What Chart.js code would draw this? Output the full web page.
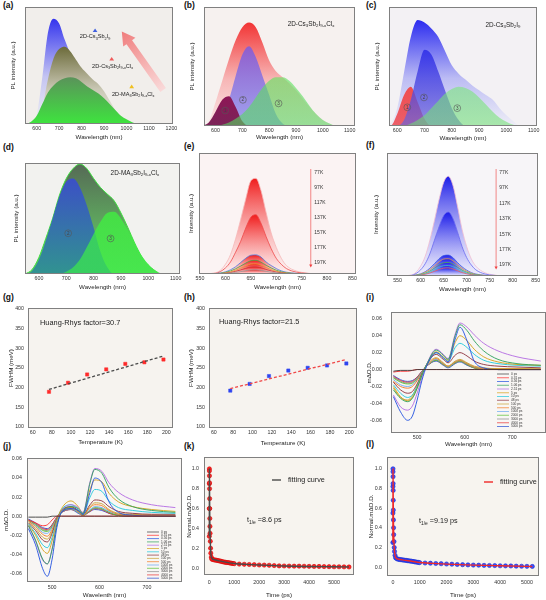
<!DOCTYPE html>
<html>
<head>
<meta charset="utf-8">
<script src="https://cdn.jsdelivr.net/npm/chart.js@4.4.1/dist/chart.umd.min.js"></script>
<style>
  body { margin: 0; background: #fff; }
  #fig { position: relative; width: 546px; height: 600px; overflow: hidden; }
  #fig canvas { position: absolute; }
  .tag { position: absolute; font: bold 8.5px 'Liberation Sans', Arial, sans-serif; line-height: 1; color: #111; }
</style>
</head>
<body>
<div id="fig">
  <div class="tag" style="left:3px;top:1px">(a)</div>
  <div class="tag" style="left:184px;top:1px">(b)</div>
  <div class="tag" style="left:366px;top:1px">(c)</div>
  <div class="tag" style="left:3px;top:143px">(d)</div>
  <div class="tag" style="left:184px;top:142px">(e)</div>
  <div class="tag" style="left:366px;top:141px">(f)</div>
  <div class="tag" style="left:3px;top:293px">(g)</div>
  <div class="tag" style="left:184px;top:293px">(h)</div>
  <div class="tag" style="left:366px;top:293px">(i)</div>
  <div class="tag" style="left:3px;top:442px">(j)</div>
  <div class="tag" style="left:184px;top:442px">(k)</div>
  <div class="tag" style="left:366px;top:440px">(l)</div>
</div>
<script>
// ---- data ----
// (a)-(d) PL spectra, normalised to plot height
const plWave = [550, 575, 600, 625, 650, 675, 700, 725, 750, 775, 800, 825, 850, 875, 900, 925, 950, 975, 1000, 1025, 1050, 1075, 1100]
const aCsI   = [0, 0, 0.08, 0.4, 0.78, 0.9, 0.86, 0.72, 0.6, 0.5, 0.42, 0.35, 0.28, 0.21, 0.15, 0.1, 0.06, 0.03, 0.01, 0, 0, 0, 0]
const aCsCl  = [0, 0, 0.02, 0.14, 0.38, 0.56, 0.64, 0.66, 0.62, 0.55, 0.48, 0.43, 0.38, 0.34, 0.28, 0.2, 0.12, 0.06, 0.02, 0.005, 0, 0, 0]
const aMACl  = [0, 0.02, 0.07, 0.17, 0.27, 0.33, 0.37, 0.39, 0.4, 0.39, 0.36, 0.32, 0.29, 0.26, 0.22, 0.17, 0.12, 0.07, 0.04, 0.015, 0, 0, 0]

const bTotal = [0, 0.04, 0.2, 0.38, 0.56, 0.72, 0.83, 0.87, 0.83, 0.7, 0.55, 0.46, 0.41, 0.36, 0.3, 0.23, 0.16, 0.1, 0.05, 0.02, 0, 0, 0]
const bPeak1 = [0, 0.03, 0.12, 0.22, 0.25, 0.16, 0.04, 0, 0, 0, 0, 0, 0, 0, 0, 0, 0, 0, 0, 0, 0, 0, 0]
const bPeak2 = [0, 0, 0.02, 0.08, 0.22, 0.42, 0.6, 0.67, 0.58, 0.42, 0.26, 0.1, 0.02, 0, 0, 0, 0, 0, 0, 0, 0, 0, 0]
const bPeak3 = [0, 0, 0, 0.01, 0.03, 0.06, 0.1, 0.16, 0.24, 0.32, 0.38, 0.41, 0.41, 0.38, 0.32, 0.25, 0.17, 0.1, 0.05, 0.02, 0, 0, 0]

const cTotal = [0, 0.02, 0.15, 0.45, 0.75, 0.89, 0.87, 0.82, 0.75, 0.63, 0.51, 0.44, 0.39, 0.34, 0.3, 0.26, 0.22, 0.15, 0.09, 0.04, 0, 0, 0]
const cPeak1 = [0, 0, 0.1, 0.26, 0.33, 0.2, 0.06, 0, 0, 0, 0, 0, 0, 0, 0, 0, 0, 0, 0, 0, 0, 0, 0]
const cPeak2 = [0, 0, 0, 0.05, 0.22, 0.46, 0.64, 0.6, 0.46, 0.3, 0.15, 0.05, 0, 0, 0, 0, 0, 0, 0, 0, 0, 0, 0]
const cPeak3 = [0, 0, 0, 0, 0.02, 0.05, 0.09, 0.15, 0.21, 0.27, 0.31, 0.33, 0.32, 0.29, 0.24, 0.18, 0.12, 0.07, 0.035, 0.01, 0, 0, 0]

const dTotal = [0, 0.04, 0.15, 0.32, 0.5, 0.71, 0.86, 0.95, 0.99, 0.95, 0.86, 0.78, 0.72, 0.66, 0.55, 0.42, 0.28, 0.16, 0.08, 0.03, 0, 0, 0]
const dPeak2 = [0, 0.03, 0.13, 0.3, 0.5, 0.7, 0.83, 0.86, 0.78, 0.62, 0.42, 0.2, 0.06, 0, 0, 0, 0, 0, 0, 0, 0, 0, 0]
const dPeak3 = [0, 0, 0, 0, 0, 0, 0.02, 0.06, 0.13, 0.24, 0.36, 0.47, 0.55, 0.56, 0.5, 0.4, 0.28, 0.17, 0.09, 0.03, 0, 0, 0]

// (e),(f) temperature dependent PL
const tWave = [550, 580, 590, 600, 610, 620, 630, 640, 650, 660, 670, 680, 690, 700, 710, 720, 740, 760, 780, 850]
const tempLabels = ['77K', '97K', '117K', '137K', '157K', '177K', '197K']
const e77  = [0, 0.01, 0.03, 0.08, 0.16, 0.29, 0.45, 0.62, 0.77, 0.79, 0.69, 0.51, 0.34, 0.22, 0.13, 0.07, 0.024, 0.008, 0, 0]
const e97  = [0, 0.005, 0.02, 0.05, 0.1, 0.18, 0.27, 0.38, 0.47, 0.49, 0.42, 0.31, 0.21, 0.13, 0.08, 0.045, 0.015, 0.005, 0, 0]
const e117 = [0, 0.003, 0.008, 0.018, 0.035, 0.06, 0.095, 0.13, 0.155, 0.158, 0.14, 0.1, 0.07, 0.045, 0.026, 0.015, 0.005, 0.002, 0, 0]
const e137 = [0, 0.002, 0.006, 0.013, 0.025, 0.043, 0.066, 0.09, 0.11, 0.113, 0.098, 0.073, 0.05, 0.031, 0.018, 0.01, 0.003, 0.001, 0, 0]
const e157 = [0, 0.001, 0.004, 0.009, 0.018, 0.031, 0.048, 0.066, 0.082, 0.084, 0.073, 0.054, 0.036, 0.023, 0.013, 0.008, 0.003, 0.001, 0, 0]
const e177 = [0, 0.001, 0.003, 0.006, 0.012, 0.022, 0.034, 0.047, 0.058, 0.059, 0.052, 0.038, 0.026, 0.016, 0.01, 0.005, 0.002, 0, 0, 0]
const e197 = [0, 0, 0.002, 0.004, 0.007, 0.013, 0.02, 0.027, 0.034, 0.035, 0.03, 0.022, 0.015, 0.01, 0.006, 0.003, 0.001, 0, 0, 0]
const f77  = [0, 0.008, 0.03, 0.08, 0.16, 0.29, 0.45, 0.62, 0.76, 0.81, 0.74, 0.57, 0.38, 0.24, 0.14, 0.08, 0.026, 0.008, 0, 0]
const f97  = [0, 0.005, 0.02, 0.05, 0.1, 0.18, 0.29, 0.4, 0.49, 0.52, 0.47, 0.36, 0.24, 0.15, 0.09, 0.05, 0.016, 0.005, 0, 0]
const f117 = [0, 0.003, 0.008, 0.018, 0.035, 0.063, 0.1, 0.14, 0.166, 0.17, 0.15, 0.11, 0.075, 0.048, 0.028, 0.016, 0.005, 0.002, 0, 0]
const f137 = [0, 0.002, 0.007, 0.015, 0.03, 0.052, 0.082, 0.114, 0.137, 0.14, 0.124, 0.092, 0.062, 0.04, 0.023, 0.013, 0.004, 0.001, 0, 0]
const f157 = [0, 0.002, 0.005, 0.012, 0.023, 0.04, 0.064, 0.09, 0.107, 0.11, 0.097, 0.072, 0.048, 0.031, 0.018, 0.01, 0.003, 0.001, 0, 0]
const f177 = [0, 0.001, 0.004, 0.009, 0.018, 0.031, 0.05, 0.069, 0.083, 0.085, 0.075, 0.056, 0.037, 0.024, 0.014, 0.008, 0.003, 0.001, 0, 0]
const f197 = [0, 0.001, 0.003, 0.007, 0.014, 0.024, 0.038, 0.053, 0.063, 0.065, 0.057, 0.043, 0.028, 0.018, 0.011, 0.006, 0.002, 0, 0, 0]

// (g),(h) FWHM vs temperature
const temps  = [77, 97, 117, 137, 157, 177, 197]
const gFwhm  = [189, 212, 233, 246, 260, 264, 271]
const hFwhm  = [192, 209, 229, 243, 250, 256, 261]
const fitT   = [77, 197]
const gFit   = [195, 280]
const hFit   = [197, 271]

// (i),(j) transient absorption spectra
const taWave   = [450, 465, 480, 490, 500, 510, 520, 540, 555, 565, 580, 590, 605, 620, 640, 670, 710, 760]
const taDelays = ['0 ps', '0.31 ps', '0.56 ps', '1.06 ps', '2.51 ps', '5 ps', '10 ps', '48 ps', '100 ps', '500 ps', '1000 ps', '2000 ps', '3000 ps', '4000 ps', '5000 ps']
const i0  = [-0.002, -0.001, -0.001, -0.001, 0, 0, 0, 0, 0, 0, 0, 0, 0, 0, 0, 0, 0, 0]
const i1  = [-0.003, -0.002, -0.002, -0.001, 0, 0, 0, 0, 0, 0, 0, 0, 0, 0, 0, 0, 0, 0]
const i2  = [-0.032, -0.05, -0.06, -0.055, -0.036, -0.013, 0.004, 0.02, 0.014, 0.009, 0.036, 0.05, 0.034, 0.01, 0.002, 0, 0, 0]
const i3  = [-0.024, -0.034, -0.038, -0.034, -0.022, -0.007, 0.006, 0.023, 0.017, 0.012, 0.04, 0.053, 0.046, 0.034, 0.022, 0.012, 0.007, 0.005]
const i4  = [-0.03, -0.044, -0.048, -0.043, -0.028, -0.01, 0.006, 0.024, 0.018, 0.013, 0.042, 0.055, 0.05, 0.041, 0.031, 0.022, 0.015, 0.01]
const i5  = [-0.02, -0.032, -0.037, -0.033, -0.022, -0.007, 0.006, 0.021, 0.015, 0.011, 0.032, 0.04, 0.034, 0.024, 0.015, 0.009, 0.006, 0.005]
const i6  = [-0.018, -0.028, -0.033, -0.03, -0.02, -0.006, 0.006, 0.02, 0.014, 0.01, 0.026, 0.031, 0.026, 0.018, 0.011, 0.007, 0.005, 0.004]
const i7  = [-0.015, -0.024, -0.028, -0.026, -0.017, -0.005, 0.006, 0.018, 0.012, 0.008, 0.017, 0.02, 0.016, 0.01, 0.006, 0.004, 0.003, 0.002]
const i8  = [-0.022, -0.033, -0.036, -0.031, -0.019, -0.005, 0.005, 0.014, 0.008, 0.004, 0.01, 0.012, 0.008, 0.004, 0.002, 0.001, 0.001, 0.001]
const i9  = [-0.014, -0.02, -0.022, -0.02, -0.013, -0.004, 0.004, 0.013, 0.007, 0.004, 0.009, 0.011, 0.007, 0.003, 0.001, 0.001, 0.001, 0]
const i10 = [-0.012, -0.018, -0.02, -0.018, -0.012, -0.003, 0.004, 0.012, 0.007, 0.003, 0.009, 0.011, 0.007, 0.003, 0.001, 0, 0, 0]
const i11 = [-0.01, -0.015, -0.017, -0.016, -0.011, -0.003, 0.004, 0.011, 0.006, 0.003, 0.008, 0.01, 0.006, 0.002, 0.001, 0, 0, 0]
const i12 = [-0.009, -0.014, -0.016, -0.015, -0.01, -0.003, 0.004, 0.011, 0.006, 0.003, 0.008, 0.01, 0.006, 0.002, 0.001, 0, 0, 0]
const i13 = [-0.008, -0.013, -0.015, -0.014, -0.009, -0.002, 0.004, 0.011, 0.006, 0.003, 0.008, 0.01, 0.006, 0.002, 0.001, 0, 0, 0]
const i14 = [-0.007, -0.012, -0.014, -0.013, -0.009, -0.002, 0.004, 0.01, 0.005, 0.002, 0.007, 0.009, 0.005, 0.002, 0.001, 0, 0, 0]
const j0  = [-0.001, -0.001, -0.001, -0.001, 0, 0, 0, 0, 0, 0, 0, 0, 0, 0, 0, 0, 0, 0]
const j1  = [-0.004, -0.007, -0.01, -0.009, -0.004, 0, 0, 0, 0, 0, 0, 0, 0, 0, 0, 0, 0, 0]
const j2  = [-0.013, -0.03, -0.055, -0.063, -0.045, -0.012, 0.004, 0.008, 0.006, 0.002, 0.025, 0.04, 0.035, 0.015, 0.004, 0.001, 0, 0]
const j3  = [-0.01, -0.025, -0.045, -0.05, -0.035, -0.009, 0.004, 0.01, 0.008, 0.003, 0.035, 0.049, 0.045, 0.03, 0.018, 0.01, 0.006, 0.004]
const j4  = [-0.01, -0.026, -0.046, -0.05, -0.034, -0.008, 0.005, 0.012, 0.009, 0.004, 0.036, 0.05, 0.047, 0.035, 0.025, 0.017, 0.012, 0.009]
const j5  = [-0.009, -0.02, -0.035, -0.039, -0.026, -0.005, 0.008, 0.016, 0.01, 0.003, 0.028, 0.038, 0.036, 0.024, 0.015, 0.01, 0.007, 0.005]
const j6  = [-0.008, -0.018, -0.03, -0.033, -0.022, -0.004, 0.007, 0.012, 0.007, 0.002, 0.02, 0.028, 0.026, 0.016, 0.009, 0.006, 0.004, 0.003]
const j7  = [-0.007, -0.015, -0.025, -0.027, -0.018, -0.003, 0.006, 0.01, 0.006, 0.002, 0.012, 0.017, 0.016, 0.01, 0.005, 0.003, 0.002, 0.002]
const j8  = [-0.006, -0.013, -0.022, -0.024, -0.016, -0.003, 0.006, 0.009, 0.005, 0.001, 0.01, 0.014, 0.013, 0.007, 0.003, 0.002, 0.001, 0.001]
const j9  = [-0.005, -0.011, -0.019, -0.021, -0.014, -0.002, 0.005, 0.009, 0.005, 0.001, 0.009, 0.012, 0.011, 0.006, 0.002, 0.001, 0.001, 0]
const j10 = [-0.005, -0.01, -0.017, -0.018, -0.012, -0.002, 0.005, 0.008, 0.004, 0.001, 0.007, 0.01, 0.009, 0.005, 0.002, 0.001, 0, 0]
const j11 = [-0.004, -0.009, -0.015, -0.016, -0.011, -0.002, 0.005, 0.008, 0.004, 0.001, 0.006, 0.009, 0.008, 0.004, 0.001, 0.001, 0, 0]
const j12 = [-0.004, -0.008, -0.014, -0.015, -0.01, -0.002, 0.004, 0.007, 0.004, 0.001, 0.006, 0.008, 0.007, 0.004, 0.001, 0, 0, 0]
const j13 = [-0.004, -0.008, -0.013, -0.014, -0.009, -0.001, 0.004, 0.007, 0.004, 0.001, 0.005, 0.008, 0.007, 0.003, 0.001, 0, 0, 0]
const j14 = [-0.003, -0.007, -0.012, -0.013, -0.009, -0.001, 0.004, 0.007, 0.003, 0.001, 0.005, 0.007, 0.006, 0.003, 0.001, 0, 0, 0]

// (k),(l) kinetics
const kTime = [0, 1, 2, 3, 4, 6, 8, 10, 13, 16, 20, 25, 30, 40, 50, 60, 80, 100, 150, 200, 250, 300, 350, 400, 450, 500, 550, 600, 650, 700, 750, 800, 850, 900, 950, 1000, 1200, 1400, 1600, 1800, 2000, 2200, 2400, 2600, 2800, 3000, 3200, 3400, 3600, 3800, 4000, 4200, 4400, 4600, 4800, 5000, 5200, 5400, 5600]
const kSig  = [0.32, 0.6, 0.85, 1.0, 0.98, 0.93, 0.86, 0.8, 0.7, 0.6, 0.5, 0.42, 0.35, 0.27, 0.2, 0.15, 0.11, 0.09, 0.085, 0.082, 0.08, 0.078, 0.075, 0.072, 0.07, 0.066, 0.063, 0.06, 0.058, 0.056, 0.055, 0.053, 0.05, 0.048, 0.046, 0.044, 0.04, 0.038, 0.036, 0.034, 0.031, 0.03, 0.028, 0.025, 0.022, 0.021, 0.02, 0.019, 0.019, 0.018, 0.017, 0.016, 0.016, 0.015, 0.014, 0.013, 0.013, 0.012, 0.011]
const kFitT = [0, 3, 10, 20, 40, 60, 100, 200, 400, 700, 1000, 1500, 2000, 3000, 4000, 5000, 5600]
const kFit  = [0.32, 1.0, 0.8, 0.5, 0.27, 0.15, 0.1, 0.085, 0.072, 0.057, 0.046, 0.037, 0.031, 0.021, 0.016, 0.013, 0.011]
const lTime = [0, 1, 2, 3, 4, 6, 8, 10, 13, 16, 20, 25, 30, 40, 50, 60, 80, 100, 150, 200, 250, 300, 350, 400, 450, 500, 550, 600, 650, 700, 750, 800, 850, 900, 950, 1000, 1200, 1400, 1600, 1800, 2000, 2200, 2400, 2600, 2800, 3000, 3200, 3400, 3600, 3800, 4000, 4200, 4400, 4600, 4800, 5000, 5200]
const lSig  = [0.25, 0.55, 0.82, 1.0, 0.97, 0.92, 0.85, 0.78, 0.68, 0.58, 0.48, 0.4, 0.33, 0.26, 0.2, 0.16, 0.12, 0.095, 0.085, 0.08, 0.078, 0.076, 0.074, 0.072, 0.07, 0.068, 0.066, 0.064, 0.062, 0.06, 0.058, 0.055, 0.053, 0.05, 0.048, 0.046, 0.042, 0.04, 0.037, 0.035, 0.032, 0.03, 0.027, 0.025, 0.023, 0.021, 0.02, 0.018, 0.017, 0.016, 0.014, 0.013, 0.012, 0.01, 0.009, 0.008, 0.007]
const lFitT = [0, 3, 10, 20, 40, 60, 100, 200, 400, 700, 1000, 1500, 2000, 3000, 4000, 5000, 5200]
const lFit  = [0.25, 1.0, 0.78, 0.48, 0.26, 0.16, 0.1, 0.082, 0.072, 0.06, 0.047, 0.038, 0.031, 0.021, 0.014, 0.008, 0.007]

// tick values
const plTicks    = [600, 700, 800, 900, 1000, 1100]
const aTicks     = [600, 700, 800, 900, 1000, 1100, 1200]
const tempTicks  = [550, 600, 650, 700, 750, 800, 850]
const tTicks     = [60, 80, 100, 120, 140, 160, 180, 200]
const fwhmTicks  = [100, 150, 200, 250, 300, 350, 400]
const taTicks    = [500, 600, 700]
const odTicks    = [-0.06, -0.04, -0.02, 0, 0.02, 0.04, 0.06]
const timeTicks  = [0, 1000, 2000, 3000, 4000, 5000]
const normTicks  = [0, 0.2, 0.4, 0.6, 0.8, 1.0]

// ---- drawing ----
const FONT = "'Liberation Sans', Arial, sans-serif"
const TICK = 5.3
const TITLE = 6.2
const fig = document.getElementById('fig')
const taColors = ['#3a3a3a', '#ff2a2a', '#2050e0', '#2ca05a', '#b36ae2', '#d4a017', '#1ec8dc', '#8b2f3a', '#c8a030', '#f07820', '#6aa8f0', '#58c030', '#8a8a8a', '#e83030', '#2a4fd0']

const pts = (xs, ys) => xs.map((x, i) => ({ x, y: ys[i] }))

// vertical gradient from the curve's peak down to the baseline
function fade(stops) {
    return c => {
        const chart = c.chart
        const area = chart.chartArea
        if (!area) return stops[0][1]
        const peak = Math.max(...c.dataset.data.map(p => p.y))
        const g = chart.ctx.createLinearGradient(0, chart.scales.y.getPixelForValue(peak), 0, area.bottom)
        stops.forEach(([o, col]) => g.addColorStop(o, col))
        return g
    }
}

function area(xs, ys, stops, border, bw) {
    return {
        data: pts(xs, ys), fill: 'origin', backgroundColor: fade(stops),
        borderColor: border || 'rgba(0,0,0,0)', borderWidth: bw || 0,
        pointRadius: 0, cubicInterpolationMode: 'monotone'
    }
}

function splitSub(s) {
    const out = []
    const re = /_\{([^}]*)\}/g
    let last = 0, m
    while ((m = re.exec(s))) {
        if (m.index > last) out.push([s.slice(last, m.index), false])
        out.push([m[1], true])
        last = re.lastIndex
    }
    if (last < s.length) out.push([s.slice(last), false])
    return out
}

function rich(ctx, s, x, y, size, align, color) {
    const parts = splitSub(s)
    let w = 0
    parts.forEach(([t, sub]) => { ctx.font = (sub ? size * 0.68 : size) + 'px ' + FONT; w += ctx.measureText(t).width })
    let cx = align === 'left' ? x : x - w / 2
    ctx.fillStyle = color || '#222'
    ctx.textAlign = 'left'
    ctx.textBaseline = 'middle'
    parts.forEach(([t, sub]) => {
        ctx.font = (sub ? size * 0.68 : size) + 'px ' + FONT
        ctx.fillText(t, cx, sub ? y + size * 0.3 : y)
        cx += ctx.measureText(t).width
    })
}

function circled(ctx, n, x, y) {
    ctx.strokeStyle = '#555'
    ctx.lineWidth = 0.6
    ctx.beginPath()
    ctx.arc(x, y, 3.4, 0, Math.PI * 2)
    ctx.stroke()
    ctx.fillStyle = '#444'
    ctx.font = '4.6px ' + FONT
    ctx.textAlign = 'center'
    ctx.textBaseline = 'middle'
    ctx.fillText(n, x, y + 0.2)
}

function frame(bg, extra) {
    return {
        id: 'frame',
        beforeDraw(chart) {
            const { ctx, chartArea: a } = chart
            ctx.save()
            ctx.fillStyle = bg
            ctx.fillRect(a.left, a.top, a.width, a.height)
            ctx.restore()
        },
        afterDraw(chart) {
            const { ctx, chartArea: a } = chart
            const X = v => chart.scales.x.getPixelForValue(v)
            const Y = v => chart.scales.y.getPixelForValue(v)
            if (extra) {
                ctx.save()
                extra(ctx, a, X, Y, chart)
                ctx.restore()
            }
            ctx.save()
            ctx.strokeStyle = '#808080'
            ctx.lineWidth = 1
            ctx.strokeRect(a.left + 0.5, a.top + 0.5, a.width - 1, a.height - 1)
            ctx.restore()
        }
    }
}

// g: canvas box + wanted plot box + title centres, all in page pixels
function panel(g, type, datasets, o, extra) {
    const cv = document.createElement('canvas')
    cv.width = g.cw
    cv.height = g.ch
    cv.style.left = g.cx + 'px'
    cv.style.top = g.cy + 'px'
    fig.appendChild(cv)
    const L = TITLE * 1.2
    const bottomEdge = g.xt + L / 2
    const leftEdge = g.yt - L / 2
    const tickFont = { family: FONT, size: TICK }
    const titleFont = { family: FONT, size: TITLE }
    const y = {
        type: 'linear', min: o.yr[0], max: o.yr[1],
        grid: { display: false, drawTicks: false }, border: { display: false },
        afterFit: s => { s.width = g.l - leftEdge; s.paddingTop = 0; s.paddingBottom = 0 },
        ticks: { display: !!o.yticks, font: tickFont, color: '#333', padding: o.ypad || 3, callback: o.yf || (v => String(v)) },
        title: { display: true, text: o.ylab, font: titleFont, color: '#222', padding: 0 }
    }
    if (o.yticks) y.afterBuildTicks = s => { s.ticks = o.yticks.map(v => ({ value: v })) }
    new Chart(cv, {
        type: type,
        data: { datasets: datasets },
        options: {
            responsive: false, animation: false, events: [],
            layout: { padding: { left: leftEdge - g.cx, right: g.cx + g.cw - g.r, top: g.t - g.cy, bottom: g.cy + g.ch - bottomEdge } },
            plugins: { legend: { display: false }, tooltip: { enabled: false } },
            scales: {
                x: {
                    type: 'linear', min: o.xr[0], max: o.xr[1],
                    grid: { display: false, drawTicks: false }, border: { display: false },
                    afterBuildTicks: s => { s.ticks = o.xticks.map(v => ({ value: v })) },
                    afterFit: s => { s.height = bottomEdge - g.b; s.paddingLeft = 0; s.paddingRight = 0 },
                    ticks: { font: tickFont, color: '#333', padding: o.xpad || 1.5, maxRotation: 0, autoSkip: false, callback: v => String(v) },
                    title: { display: true, text: o.xlab, font: titleFont, color: '#222', padding: 0 }
                },
                y: y
            }
        },
        plugins: [frame(o.bg, extra)]
    })
}

function tri(ctx, x, y, col) {
    ctx.fillStyle = col
    ctx.beginPath()
    ctx.moveTo(x, y - 2)
    ctx.lineTo(x + 2.4, y + 1.6)
    ctx.lineTo(x - 2.4, y + 1.6)
    ctx.closePath()
    ctx.fill()
}

function bigArrow(ctx, x0, y0, x1, y1) {
    const dx = x1 - x0, dy = y1 - y0
    const len = Math.hypot(dx, dy)
    const ux = dx / len, uy = dy / len, nx = -uy, ny = ux
    const hl = 13, hw = 7.5, sw = 3.4
    const bx = x1 - ux * hl, by = y1 - uy * hl
    const gr = ctx.createLinearGradient(x0, y0, x1, y1)
    gr.addColorStop(0, 'rgba(250,215,215,0.9)')
    gr.addColorStop(1, '#f07c7c')
    ctx.fillStyle = gr
    ctx.beginPath()
    ctx.moveTo(x0 + nx * sw, y0 + ny * sw)
    ctx.lineTo(bx + nx * sw, by + ny * sw)
    ctx.lineTo(bx + nx * hw, by + ny * hw)
    ctx.lineTo(x1, y1)
    ctx.lineTo(bx - nx * hw, by - ny * hw)
    ctx.lineTo(bx - nx * sw, by - ny * sw)
    ctx.lineTo(x0 - nx * sw, y0 - ny * sw)
    ctx.closePath()
    ctx.fill()
}

const wl = 'Wavelength (nm)'
const pl = 'PL intensity (a.u.)'

// (a)
panel({ cx: 0, cy: 0, cw: 182, ch: 147, l: 25, t: 7, r: 173, b: 124, xt: 137, yt: 13 }, 'line', [
    area(plWave, aCsI, [[0, '#3434ee'], [0.55, '#c4c4f2'], [1, '#f0f0f3']]),
    area(plWave, aCsCl, [[0, '#6c6b3a'], [0.55, '#c9c7b4'], [1, '#f1f0ec']]),
    area(plWave, aMACl, [[0, '#5a935a'], [1, '#3ee43e']])
].reverse(), { xr: [548, 1207], yr: [0, 1], xticks: aTicks, xlab: wl, ylab: pl, bg: '#f1eeeb' }, (ctx, a, X, Y) => {
    bigArrow(ctx, X(1163), Y(0.29), X(979), Y(0.79))
    tri(ctx, X(860), Y(0.8), '#4060e0')
    rich(ctx, '2D-Cs_{3}Sb_{2}I_{9}', X(860), Y(0.745), 5.6)
    tri(ctx, X(934), Y(0.556), '#f05a5a')
    rich(ctx, '2D-Cs_{3}Sb_{2}I_{9-x}Cl_{x}', X(938), Y(0.496), 5.6)
    tri(ctx, X(1023), Y(0.32), '#f0c020')
    rich(ctx, '2D-MA_{3}Sb_{2}I_{9-x}Cl_{x}', X(1030), Y(0.254), 5.6)
})

// (b)
panel({ cx: 182, cy: 0, cw: 182, ch: 147, l: 204, t: 7, r: 355, b: 126, xt: 137, yt: 192 }, 'line', [
    area(plWave, bTotal, [[0, '#f23434'], [0.55, '#f7b6b6'], [1, '#fbe9e9']]),
    area(plWave, bPeak2, [[0, 'rgba(136,92,212,0.92)'], [1, 'rgba(150,156,240,0.9)']]),
    area(plWave, bPeak1, [[0, '#8e1656'], [1, '#7a2458']]),
    area(plWave, bPeak3, [[0, 'rgba(96,228,96,0.62)'], [1, 'rgba(86,214,96,0.6)']])
].reverse(), { xr: [557, 1120], yr: [0, 1], xticks: plTicks, xlab: wl, ylab: pl, bg: '#f6f1ef' }, (ctx, a, X, Y) => {
    rich(ctx, '2D-Cs_{3}Sb_{2}I_{9-x}Cl_{x}', X(956), Y(0.857), 6.4)
    circled(ctx, '1', X(636), Y(0.13))
    circled(ctx, '2', X(702), Y(0.22))
    circled(ctx, '3', X(835), Y(0.19))
})

// (c)
panel({ cx: 364, cy: 0, cw: 182, ch: 147, l: 389, t: 7, r: 537, b: 126, xt: 138, yt: 377 }, 'line', [
    area(plWave, cTotal, [[0, '#2c2cf0'], [0.55, '#bcbcf4'], [1, '#eeeef6']]),
    area(plWave, cPeak1, [[0, 'rgba(242,70,70,0.95)'], [1, 'rgba(236,80,90,0.9)']]),
    area(plWave, cPeak2, [[0, 'rgba(44,44,232,0.85)'], [1, 'rgba(110,100,215,0.7)']]),
    area(plWave, cPeak3, [[0, 'rgba(120,232,120,0.58)'], [1, 'rgba(110,225,110,0.55)']])
].reverse(), { xr: [570, 1112], yr: [0, 1], xticks: plTicks, xlab: wl, ylab: pl, bg: '#f3f1f4' }, (ctx, a, X, Y) => {
    rich(ctx, '2D-Cs_{3}Sb_{2}I_{9}', X(987), Y(0.85), 6.4)
    circled(ctx, '1', X(637), Y(0.157))
    circled(ctx, '2', X(698), Y(0.24))
    circled(ctx, '3', X(820), Y(0.15))
})

// (d)
panel({ cx: 0, cy: 147, cw: 182, ch: 151, l: 25, t: 163, r: 180, b: 274, xt: 287, yt: 16 }, 'line', [
    area(plWave, dTotal, [[0, '#566a56'], [0.6, '#5fae5f'], [1, '#5cd65c']], '#3ee03e', 1),
    area(plWave, dPeak2, [[0, 'rgba(58,78,204,0.95)'], [1, 'rgba(44,140,150,0.9)']]),
    area(plWave, dPeak3, [[0, 'rgba(60,250,60,0.7)'], [1, 'rgba(60,240,70,0.65)']])
].reverse(), { xr: [549, 1116], yr: [0, 1], xticks: plTicks, xlab: wl, ylab: pl, bg: '#f2f2ef' }, (ctx, a, X, Y) => {
    rich(ctx, '2D-MA_{3}Sb_{2}I_{9-x}Cl_{x}', X(951), Y(0.907), 6.4)
    circled(ctx, '2', X(707), Y(0.367))
    circled(ctx, '3', X(862), Y(0.32))
})

function tempMarks(arrowX, textX) {
    return (ctx, a, X, Y) => {
        const y0 = a.top + 16, y1 = a.bottom - 6.5, x = X(arrowX)
        ctx.strokeStyle = '#f06a6a'
        ctx.lineWidth = 0.8
        ctx.beginPath()
        ctx.moveTo(x, y0)
        ctx.lineTo(x, y1 - 2)
        ctx.stroke()
        ctx.fillStyle = '#f04040'
        ctx.beginPath()
        ctx.moveTo(x - 1.6, y1 - 3)
        ctx.lineTo(x + 1.6, y1 - 3)
        ctx.lineTo(x, y1)
        ctx.closePath()
        ctx.fill()
        const top = a.top + 19.5, step = (a.bottom - 11 - top) / (tempLabels.length - 1)
        ctx.fillStyle = '#333'
        ctx.font = '5px ' + FONT
        ctx.textAlign = 'left'
        ctx.textBaseline = 'middle'
        tempLabels.forEach((t, i) => ctx.fillText(t, X(textX), top + i * step))
    }
}

// (e)
const eSets = [e77, e97, e117, e137, e157, e177, e197]
const eLines = ['#f5b8b8', '#ee4a4a', '#4a78e0', '#44a844', '#e8a030', '#cc3333', '#9a9a9a']
panel({ cx: 182, cy: 147, cw: 182, ch: 151, l: 199, t: 153, r: 356, b: 274, xt: 287, yt: 191 }, 'line',
    eSets.map((s, i) => area(tWave, s, [[0, '#f01c1c'], [1, 'rgba(255,238,238,0.35)']], eLines[i], 0.8)).reverse(),
    { xr: [548, 857], yr: [0, 1], xticks: tempTicks, xlab: wl, ylab: 'Intensity (a.u.)', bg: '#fbf3f3' },
    tempMarks(768, 775))

// (f)
const fSets = [f77, f97, f117, f137, f157, f177, f197]
const fLines = ['#f0bcd0', '#6a6af0', '#3a5ae8', '#e89a40', '#50b050', '#40c0c8', '#e06060']
panel({ cx: 364, cy: 147, cw: 182, ch: 151, l: 387, t: 153, r: 538, b: 276, xt: 289, yt: 376 }, 'line',
    fSets.map((s, i) => area(tWave, s, [[0, '#1c1ce8'], [1, 'rgba(238,238,255,0.35)']], fLines[i], 0.8)).reverse(),
    { xr: [527, 855], yr: [0, 1], xticks: tempTicks, xlab: wl, ylab: 'Intensity (a.u.)', bg: '#f7f5f8' },
    tempMarks(764, 771))

// (g),(h)
function fwhmSets(vals, fit, dot, dash) {
    return [
        { data: pts(fitT, fit), showLine: true, borderColor: dash, borderWidth: 1.3, borderDash: [3, 2], pointRadius: 0 },
        { data: pts(temps, vals), pointStyle: 'rect', pointRadius: 2.3, backgroundColor: dot, borderColor: dot, borderWidth: 0.5 }
    ]
}
function hrText(s, dx, dy) {
    return (ctx, a) => {
        ctx.fillStyle = '#222'
        ctx.font = '7.4px ' + FONT
        ctx.textAlign = 'left'
        ctx.textBaseline = 'middle'
        ctx.fillText(s, a.left + dx, a.top + dy)
    }
}
const fwhmOpts = { xr: [55, 207], yr: [97, 402], xticks: tTicks, yticks: fwhmTicks, xlab: 'Temperature (K)', ylab: 'FWHM (meV)', bg: '#f6f3ef', ypad: 4 }
panel({ cx: 0, cy: 298, cw: 182, ch: 149, l: 28, t: 308, r: 173, b: 428, xt: 442, yt: 11 }, 'scatter',
    fwhmSets(gFwhm, gFit, '#ff2a2a', '#4a4a4a'), fwhmOpts, hrText('Huang-Rhys factor=30.7', 12, 15))
panel({ cx: 182, cy: 298, cw: 182, ch: 149, l: 209, t: 308, r: 357, b: 428, xt: 443, yt: 191 }, 'scatter',
    fwhmSets(hFwhm, hFit, '#2f45f0', '#f04848'), Object.assign({}, fwhmOpts, { xr: [55, 208] }), hrText('Huang-Rhys factor=21.5', 10, 14))

// (i),(j)
function taSets(list) {
    return list.map((s, i) => ({
        data: pts(taWave, s), borderColor: taColors[i], borderWidth: 0.9,
        pointRadius: 0, cubicInterpolationMode: 'monotone', fill: false
    }))
}
function taLegend(dx, dy, step) {
    return (ctx, a) => {
        ctx.font = '3.2px ' + FONT
        ctx.textAlign = 'left'
        ctx.textBaseline = 'middle'
        taDelays.forEach((t, i) => {
            const y = a.top + dy + i * step
            ctx.strokeStyle = taColors[i]
            ctx.lineWidth = 0.7
            ctx.beginPath()
            ctx.moveTo(a.left + dx, y)
            ctx.lineTo(a.left + dx + 12, y)
            ctx.stroke()
            ctx.fillStyle = '#333'
            ctx.fillText(t, a.left + dx + 14, y)
        })
    }
}
const odFmt = v => v.toFixed(2)
panel({ cx: 364, cy: 298, cw: 182, ch: 149, l: 391, t: 312, r: 546, b: 433, xt: 444, yt: 369 }, 'line',
    taSets([i0, i1, i2, i3, i4, i5, i6, i7, i8, i9, i10, i11, i12, i13, i14]),
    { xr: [445, 771], yr: [-0.075, 0.068], xticks: taTicks, yticks: odTicks, yf: odFmt, xlab: wl, ylab: 'm\u0394O.D.', bg: '#f8f6f4', ypad: 9 },
    taLegend(106, 62, 3.75))
panel({ cx: 0, cy: 447, cw: 182, ch: 153, l: 27, t: 458, r: 182, b: 582, xt: 595, yt: 6 }, 'line',
    taSets([j0, j1, j2, j3, j4, j5, j6, j7, j8, j9, j10, j11, j12, j13, j14]),
    { xr: [447, 774], yr: [-0.069, 0.061], xticks: taTicks, yticks: odTicks, yf: odFmt, xlab: 'Wavelenth (nm)', ylab: 'm\u0394O.D.', bg: '#f8f6f4', ypad: 5, xpad: 2.5 },
    taLegend(120, 74, 3.3))

// (k),(l)
function kinSets(t, s, ft, f, dot, edge, line) {
    return [
        { data: pts(ft, f), showLine: true, borderColor: line, borderWidth: 1.4, pointRadius: 0, cubicInterpolationMode: 'monotone' },
        { data: pts(t, s), pointRadius: 2.1, backgroundColor: dot, borderColor: edge, borderWidth: 0.6 }
    ]
}
function kinText(line, lx, ly, tx, ty, tau) {
    return (ctx, a) => {
        ctx.strokeStyle = line
        ctx.lineWidth = 1.4
        ctx.beginPath()
        ctx.moveTo(a.left + lx, a.top + ly)
        ctx.lineTo(a.left + lx + 9, a.top + ly)
        ctx.stroke()
        ctx.fillStyle = '#222'
        ctx.font = '7.2px ' + FONT
        ctx.textAlign = 'left'
        ctx.textBaseline = 'middle'
        ctx.fillText('fitting curve', a.left + lx + 16, a.top + ly)
        rich(ctx, 't_{1/e} =' + tau + ' ps', a.left + tx, a.top + ty, 7.2, 'left')
    }
}
const kinOpts = { xticks: timeTicks, yticks: normTicks, yf: v => v.toFixed(1), xlab: 'Time (ps)', ylab: 'Normal.m\u0394O.D.', bg: '#f7f4ef', ypad: 5 }
panel({ cx: 182, cy: 447, cw: 182, ch: 153, l: 204, t: 457, r: 354, b: 575, xt: 595, yt: 189 }, 'scatter',
    kinSets(kTime, kSig, kFitT, kFit, '#ff2a2a', '#d40000', '#4a4a4a'),
    Object.assign({ xr: [-213, 5800], yr: [-0.07, 1.12], xpad: 4 }, kinOpts),
    kinText('#4a4a4a', 68, 23, 43, 63, '8.6'))
panel({ cx: 364, cy: 447, cw: 182, ch: 153, l: 387, t: 457, r: 539, b: 576, xt: 595, yt: 371 }, 'scatter',
    kinSets(lTime, lSig, lFitT, lFit, '#3a50ff', '#1a2ad0', '#f02828'),
    Object.assign({ xr: [-220, 5450], yr: [-0.09, 1.12], xpad: 3.5 }, kinOpts),
    kinText('#f02828', 97, 25, 32, 64, '9.19'))
</script>
</body>
</html>
